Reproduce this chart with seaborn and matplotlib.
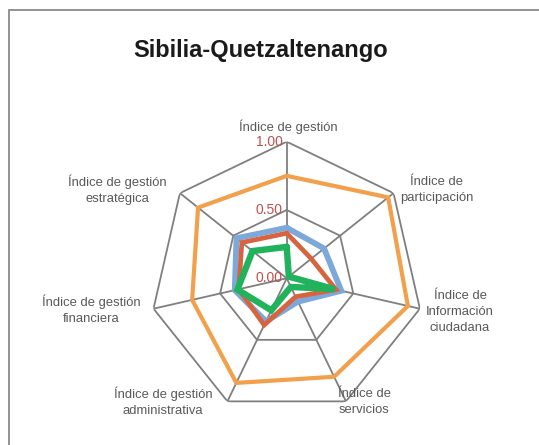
import numpy as np
import pandas as pd
import matplotlib
matplotlib.use('Agg')
import matplotlib.pyplot as plt
from matplotlib.patches import Rectangle
import seaborn as sns

sns.set_theme(style='white')
plt.rcParams['font.family'] = ['Liberation Sans', 'DejaVu Sans']

# Data (values 0..1), clockwise from the top axis
categories = [
    'Índice de gestión',
    'Índice de\nparticipación',
    'Índice de\nInformación\nciudadana',
    'Índice de\nservicios',
    'Índice de gestión\nadministrativa',
    'Índice de gestión\nfinanciera',
    'Índice de gestión\nestratégica',
]
serie_naranja = [0.75, 0.95, 0.91, 0.80, 0.85, 0.71, 0.83]
serie_azul = [0.37, 0.35, 0.41, 0.19, 0.35, 0.39, 0.47]
serie_roja = [0.33, 0.23, 0.37, 0.15, 0.38, 0.36, 0.42]
serie_verde = [0.23, 0.02, 0.36, 0.07, 0.26, 0.37, 0.32]
ring_values = [0.5, 1.0]
tick_values = [0.0, 0.5, 1.0]
tick_labels = ['0.00', '0.50', '1.00']
title = 'Sibilia-Quetzaltenango'

colors = {
    'naranja': '#F2A04C',
    'azul': '#7DA8DA',
    'roja': '#D8633F',
    'verde': '#21B25C',
}
widths = {'naranja': 3.0, 'azul': 4.2, 'roja': 3.4, 'verde': 4.6}

n = len(categories)
angles = np.arange(n) * 2 * np.pi / n
df = pd.DataFrame({
    'angle': angles,
    'naranja': serie_naranja,
    'azul': serie_azul,
    'roja': serie_roja,
    'verde': serie_verde,
})
# repeat the first point at 2*pi so the polygon closes
first = df.iloc[[0]].copy()
first['angle'] = 2 * np.pi
closed = pd.concat([df, first], ignore_index=True)

W, H = 539, 445
fig = plt.figure(figsize=(W / 100, H / 100), dpi=100)

# outer frame (cut by the image on the right and bottom)
fig.add_artist(Rectangle((9 / W, -0.2), 1.2, 1.2 - 10 / H, transform=fig.transFigure,
                         fill=False, edgecolor='#8a8a8a', linewidth=1.3))

cx, cy, R = 286.7, 445 - 278.3, 136.6
ax = fig.add_axes([(cx - R) / W, (cy - R) / H, 2 * R / W, 2 * R / H], projection='polar')
ax.set_theta_offset(np.pi / 2)
ax.set_theta_direction(-1)
ax.set_ylim(0, 1)
ax.grid(False)
ax.spines['polar'].set_visible(False)
ax.set_xticks([])
ax.set_yticks([])
ax.set_facecolor('none')

# polygonal grid and spokes
grid_color = '#7f7f7f'
ring_angles = np.append(angles, 2 * np.pi)
for rv in ring_values:
    ax.plot(ring_angles, [rv] * len(ring_angles), color=grid_color, lw=1.3, zorder=1)
for a in angles:
    ax.plot([a, a], [0, 1], color=grid_color, lw=1.3, zorder=1)

for name in ['naranja', 'azul', 'roja', 'verde']:
    sns.lineplot(x=closed['angle'], y=closed[name], ax=ax, sort=False, estimator=None,
                 color=colors[name], linewidth=widths[name], solid_joinstyle='miter', zorder=3)
ax.set_xlabel('')
ax.set_ylabel('')

# radial tick labels left of the top spoke
for v, lab in zip(tick_values, tick_labels):
    ax.annotate(lab, xy=(0, v), xytext=(-3, 0), textcoords='offset points',
                ha='right', va='center', color='#C0504D', fontsize=10, zorder=4)

# category labels
label_pos = [(288, 127), (437, 190), (460, 312), (364, 402), (163, 402), (91, 310), (117, 190)]
for lab, (x, y) in zip(categories, label_pos):
    fig.text(x / W, 1 - y / H, lab, ha='center', va='center', color='#595959',
             fontsize=9.4, linespacing=1.4)

fig.text(261 / W, 1 - 51 / H, title, ha='center', va='center', fontsize=17,
         fontweight='bold', color='#1a1a1a')

fig.savefig('out.png', dpi=100, facecolor='white')
